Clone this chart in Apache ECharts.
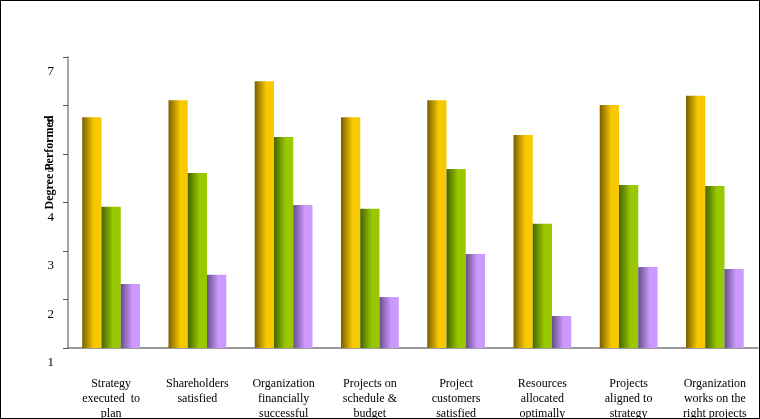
<!DOCTYPE html>
<html>
<head>
<meta charset="utf-8">
<script src="https://cdn.jsdelivr.net/npm/echarts@6/dist/echarts.min.js"></script>
<style>
  html, body { margin: 0; padding: 0; background: #fff; }
  #chart { width: 760px; height: 419px; box-sizing: border-box; border: 1px solid #000; }
</style>
</head>
<body>
<div id="chart"></div>
<script>
// categories along the x axis
const categories = [
  'Strategy\nexecuted  to\nplan',
  'Shareholders\nsatisfied',
  'Organization\nfinancially\nsuccessful',
  'Projects on\nschedule &\nbudget',
  'Project\ncustomers\nsatisfied',
  'Resources\nallocated\noptimally',
  'Projects\naligned to\nstrategy',
  'Organization\nworks on the\nright projects'
];
// values
const goldValues   = [5.76, 6.11, 6.50, 5.76, 6.11, 5.39, 6.01, 6.20];
const greenValues  = [3.91, 4.61, 5.35, 3.87, 4.69, 3.56, 4.36, 4.34];
const purpleValues = [2.32, 2.51, 3.95, 2.05, 2.94, 1.66, 2.67, 2.63];
const yTicks = [1, 2, 3, 4, 5, 6, 7];

function shade(dark, bright) {
  return new echarts.graphic.LinearGradient(0, 0, 1, 0, [
    { offset: 0, color: dark },
    { offset: 0.6, color: bright },
    { offset: 1, color: bright }
  ]);
}

const chart = echarts.init(document.getElementById('chart'));

const font = '"Liberation Serif", "Times New Roman", serif';

const option = {
  animation: false,
  textStyle: { fontFamily: font },
  grid: { left: 67, right: 1, top: 56, bottom: 70, outerBoundsMode: 'none', containLabel: false },
  xAxis: {
    type: 'category',
    data: categories,
    axisTick: { show: false },
    axisLine: { lineStyle: { color: '#7a7a7a', width: 1.5 } },
    axisLabel: {
      interval: 0,
      margin: 28,
      color: '#000',
      fontFamily: font,
      fontSize: 12,
      lineHeight: 15
    }
  },
  yAxis: {
    type: 'value',
    min: yTicks[0],
    max: yTicks[yTicks.length - 1],
    interval: 1,
    name: 'Degree Performed',
    nameLocation: 'middle',
    nameGap: 12,
    nameMoveOverlap: false,
    nameTextStyle: {
      color: '#000',
      fontFamily: font,
      fontSize: 12,
      fontWeight: 'bold',
      padding: [0, 0, 0, 80]
    },
    splitLine: { show: false },
    axisLine: { show: true, lineStyle: { color: '#a6a6a6', width: 2 } },
    axisTick: { show: true, length: 5, lineStyle: { color: '#555' } },
    axisLabel: {
      color: '#000',
      fontFamily: font,
      fontSize: 13,
      margin: 14,
      verticalAlign: 'top',
      lineHeight: 30
    }
  },
  series: [
    {
      name: 'Series 1',
      type: 'bar',
      data: goldValues,
      barGap: '0%',
      barCategoryGap: '33%',
      itemStyle: { color: shade('#7a5e00', '#f8c800') }
    },
    {
      name: 'Series 2',
      type: 'bar',
      data: greenValues,
      itemStyle: { color: shade('#446400', '#99c800') }
    },
    {
      name: 'Series 3',
      type: 'bar',
      data: purpleValues,
      itemStyle: { color: shade('#65508a', '#cc99ff') }
    }
  ]
};

chart.setOption(option);
</script>
</body>
</html>
